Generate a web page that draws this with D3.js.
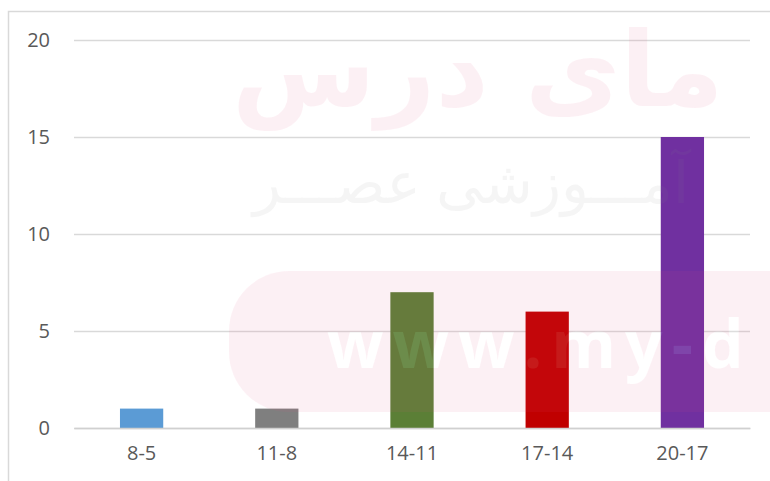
<!DOCTYPE html>
<html>
<head>
<meta charset="utf-8">
<script src="https://cdn.jsdelivr.net/npm/d3@7"></script>
<style>
  body { margin: 0; background: #fff; }
  svg { display: block; }
</style>
</head>
<body>
<svg id="chart" width="770" height="481"></svg>
<script>
// chart data
const categories = ['8-5', '11-8', '14-11', '17-14', '20-17'];
const values = [1, 1, 7, 6, 15];
const barColors = ['#5b9bd5', '#7f7f7f', '#5b7f36', '#c00000', '#7030a0'];
const yTicks = [0, 5, 10, 15, 20];

const svg = d3.select('#chart');
const margin = { left: 74, right: 20, top: 40, bottom: 53 };
const width = 770 - margin.left - margin.right;
const height = 481 - margin.top - margin.bottom;

// outer chart frame (runs off the right and bottom edges)
svg.append('rect')
  .attr('x', 8.5).attr('y', 11.5)
  .attr('width', 900).attr('height', 600)
  .attr('fill', 'none')
  .attr('stroke', '#d9d9d9')
  .attr('stroke-width', 1.5);

const g = svg.append('g').attr('transform', `translate(${margin.left},${margin.top})`);

const x = d3.scaleBand().domain(categories).range([0, width]).paddingInner(0.68).paddingOuter(0.34);
const y = d3.scaleLinear().domain([0, 20]).range([height, 0]);

const labelFont = s => s
  .attr('fill', '#595959')
  .style('font-family', '"Open Sans", sans-serif')
  .style('font-size', '20px');

// gridlines
g.append('g')
  .call(d3.axisLeft(y).tickValues(yTicks).tickSize(-width).tickFormat(''))
  .call(s => s.select('.domain').remove())
  .call(s => s.selectAll('line').attr('stroke', '#d9d9d9').attr('stroke-width', 1.5));

// y labels
g.append('g')
  .call(d3.axisLeft(y).tickValues(yTicks).tickSize(0).tickPadding(24))
  .call(s => s.select('.domain').remove())
  .call(s => s.selectAll('text').call(labelFont));

// bars
g.selectAll('.bar')
  .data(values)
  .enter().append('rect')
  .attr('class', 'bar')
  .attr('x', (d, i) => x(categories[i]))
  .attr('width', x.bandwidth())
  .attr('y', d => y(d))
  .attr('height', d => height - y(d))
  .attr('fill', (d, i) => barColors[i]);

// x axis
g.append('g')
  .attr('transform', `translate(0,${height})`)
  .call(d3.axisBottom(x).tickSize(0).tickPadding(18))
  .call(s => s.select('.domain').attr('stroke', '#d0d0d0').attr('stroke-width', 1.5))
  .call(s => s.selectAll('text').call(labelFont));

// faint watermark drawn over the chart
const wmText = 'www.my-d';
const wmStyle = s => s
  .attr('x', 327).attr('y', 368)
  .style('font-family', '"Open Sans", sans-serif')
  .style('font-weight', 'bold')
  .style('font-size', '66px')
  .style('letter-spacing', '9px')
  .text(wmText);

const defs = svg.append('defs');
const mask = defs.append('mask').attr('id', 'wm');
mask.append('rect').attr('width', 770).attr('height', 481).attr('fill', '#fff');
mask.append('text').attr('fill', '#000').call(wmStyle);

const wm = svg.append('g').attr('pointer-events', 'none');
wm.append('rect')
  .attr('x', 229).attr('y', 271)
  .attr('width', 700).attr('height', 141)
  .attr('rx', 60)
  .attr('fill', '#e65082').attr('opacity', 0.08)
  .attr('mask', 'url(#wm)');
wm.append('text').attr('fill', '#fff').attr('opacity', 0.1).call(wmStyle);
wm.append('text')
  .attr('x', 253).attr('y', 203)
  .attr('fill', '#888').attr('opacity', 0.08)
  .style('font-family', '"Noto Sans", "DejaVu Sans", sans-serif')
  .style('font-size', '58px')
  .text('آمـــوزشی عصـــر');
wm.append('text')
  .attr('x', 232).attr('y', 106)
  .attr('fill', '#e65082').attr('opacity', 0.08)
  .style('font-family', '"DejaVu Sans", sans-serif')
  .style('font-weight', 'bold')
  .style('font-size', '104px')
  .text('مای درس');
</script>
</body>
</html>
